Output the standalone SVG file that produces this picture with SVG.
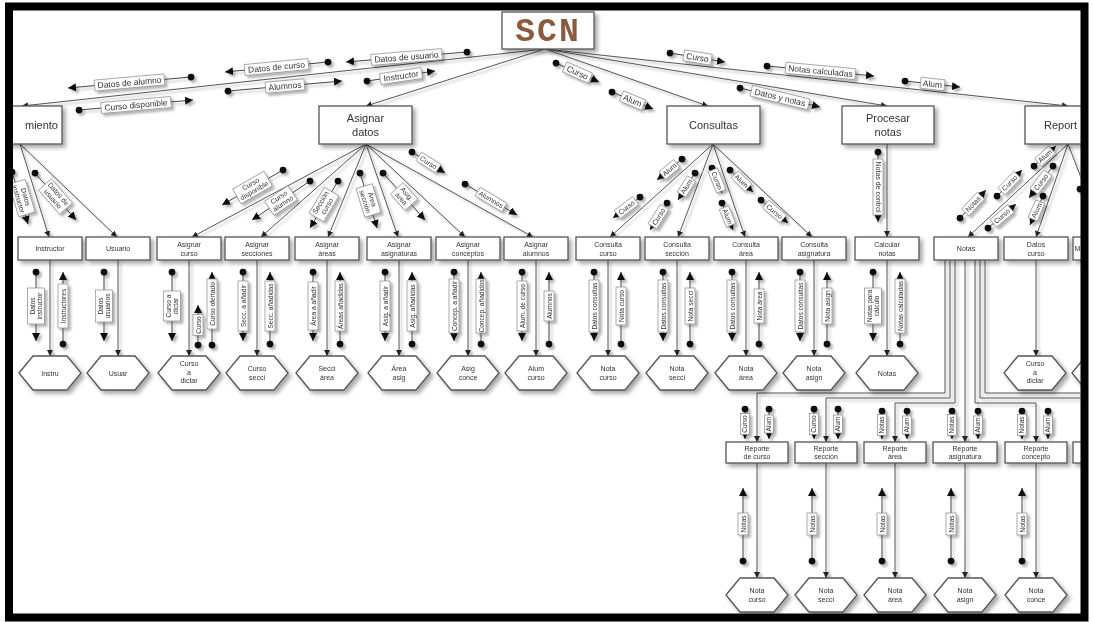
<svg xmlns="http://www.w3.org/2000/svg" width="1093" height="622" viewBox="0 0 1093 622">
<style>
.bx{fill:#fff;stroke:#555;stroke-width:1.3}
.t{font-family:"Liberation Sans",Arial,sans-serif;fill:#333;text-anchor:middle}
.t11{font-size:11px}
.t85{font-size:8.5px}
.t7{font-size:7px}
.t65{font-size:6.6px}
.ln{stroke:#555;stroke-width:1;fill:none}
.ar{marker-end:url(#ah)}
.cp{stroke:#444;stroke-width:1;fill:none;marker-start:url(#cd);marker-end:url(#ca)}
.lb{fill:#fff;stroke:#888;stroke-width:0.7}
.scn{font-family:"Liberation Mono","Courier New",monospace;font-weight:bold;font-size:33px;fill:#8b5a3c;text-anchor:middle;letter-spacing:2px}
</style>
<defs>
<filter id="sh" x="-10%" y="-10%" width="125%" height="125%">
<feDropShadow dx="3" dy="3" stdDeviation="2" flood-color="#000" flood-opacity="0.35"/>
</filter>
<filter id="shl" x="-5%" y="-5%" width="115%" height="115%">
<feDropShadow dx="2.5" dy="2.5" stdDeviation="1.2" flood-color="#000" flood-opacity="0.3"/>
</filter>
<marker id="ah" viewBox="0 0 10 10" refX="10" refY="5" markerWidth="6" markerHeight="6" markerUnits="userSpaceOnUse" orient="auto"><path d="M0,0 L10,5 L0,10 z" fill="#222"/></marker>
<marker id="ca" viewBox="0 0 10 10" refX="10" refY="5" markerWidth="8" markerHeight="8" markerUnits="userSpaceOnUse" orient="auto"><path d="M0,0 L10,5 L0,10 z" fill="#111"/></marker>
<marker id="cd" viewBox="0 0 20 20" refX="10" refY="10" markerWidth="9" markerHeight="9" markerUnits="userSpaceOnUse" overflow="visible"><circle cx="10" cy="10" r="7.5" fill="#111"/></marker>
<polygon id="hx" points="-31,0 -17,-17 17,-17 31,0 17,17 -17,17" fill="#fff" stroke="#555" stroke-width="1.3"/>
<clipPath id="inner"><rect x="13" y="10.5" width="1067.5" height="603"/></clipPath>
</defs>
<rect width="1093" height="622" fill="#fff"/>
<g clip-path="url(#inner)">

<g id="connectors" filter="url(#shl)">
<path class="ln ar" d="M545,49 L22,106"/>
<path class="ln ar" d="M545,49 L366,106"/>
<path class="ln ar" d="M545,49 L708,106"/>
<path class="ln ar" d="M545,49 L887,106"/>
<path class="ln ar" d="M545,49 L1068,106"/>
<path class="ln ar" d="M20,144 L49,237"/>
<path class="ln ar" d="M20,144 L117,237"/>
<path class="ln ar" d="M366,144 L192,237"/>
<path class="ln ar" d="M366,144 L261,237"/>
<path class="ln ar" d="M366,144 L328,237"/>
<path class="ln ar" d="M366,144 L398,237"/>
<path class="ln ar" d="M366,144 L465,237"/>
<path class="ln ar" d="M366,144 L533,237"/>
<path class="ln ar" d="M713,144 L610,237"/>
<path class="ln ar" d="M713,144 L678,237"/>
<path class="ln ar" d="M713,144 L745,237"/>
<path class="ln ar" d="M713,144 L812,237"/>
<path class="ln ar" d="M887,144 L887,237"/>
<path class="ln ar" d="M1068,144 L968,237"/>
<path class="ln ar" d="M1068,144 L1036,237"/>
<path class="ln ar" d="M1068,144 L1104,237"/>
<path class="ln ar" d="M50,260 V356"/>
<path class="ln ar" d="M118,260 V356"/>
<path class="ln ar" d="M189,260 V356"/>
<path class="ln ar" d="M257,260 V356"/>
<path class="ln ar" d="M327,260 V356"/>
<path class="ln ar" d="M399,260 V356"/>
<path class="ln ar" d="M468,260 V356"/>
<path class="ln ar" d="M536,260 V356"/>
<path class="ln ar" d="M608,260 V356"/>
<path class="ln ar" d="M677,260 V356"/>
<path class="ln ar" d="M746,260 V356"/>
<path class="ln ar" d="M814,260 V356"/>
<path class="ln ar" d="M887,260 V356"/>
<path class="ln ar" d="M1036,260 V356"/>
<path class="ln ar" d="M945,260 V393 H757 V442"/>
<path class="ln ar" d="M950,260 V398 H826 V442"/>
<path class="ln ar" d="M955,260 V403 H895 V442"/>
<path class="ln ar" d="M965,260 V442"/>
<path class="ln ar" d="M975,260 V403 H1036 V442"/>
<path class="ln" d="M980,260 V398 H1095"/>
<path class="ln" d="M985,260 V393 H1095"/>
<path class="ln ar" d="M757,463 V578"/>
<path class="ln ar" d="M826,463 V578"/>
<path class="ln ar" d="M895,463 V578"/>
<path class="ln ar" d="M965,463 V578"/>
<path class="ln ar" d="M1036,463 V578"/>
</g>

<g id="couples" filter="url(#shl)">
<line class="cp" x1="191" y1="77" x2="68" y2="88"/><g transform="translate(129.5 82.5) rotate(-5.1)"><rect class="lb" x="-35" y="-5.5" width="70" height="11"/><text class="t t85" y="3">Datos de alumno</text></g>
<line class="cp" x1="79" y1="110" x2="193" y2="100"/><g transform="translate(136 105) rotate(-5)"><rect class="lb" x="-35" y="-5.5" width="70" height="11"/><text class="t t85" y="3">Curso disponible</text></g>
<line class="cp" x1="328" y1="62" x2="225" y2="72"/><g transform="translate(276.5 67) rotate(-5.5)"><rect class="lb" x="-32" y="-5.5" width="64" height="11"/><text class="t t85" y="3">Datos de curso</text></g>
<line class="cp" x1="228" y1="91" x2="342" y2="81"/><g transform="translate(285 86) rotate(-5)"><rect class="lb" x="-19.5" y="-5.5" width="39" height="11"/><text class="t t85" y="3">Alumnos</text></g>
<line class="cp" x1="467" y1="52" x2="346" y2="62"/><g transform="translate(406.5 57) rotate(-4.7)"><rect class="lb" x="-35.5" y="-5.5" width="71" height="11"/><text class="t t85" y="3">Datos de usuario</text></g>
<line class="cp" x1="367" y1="81" x2="435" y2="71"/><g transform="translate(401 76) rotate(-8.4)"><rect class="lb" x="-21" y="-5.5" width="42" height="11"/><text class="t t85" y="3">Instructor</text></g>
<line class="cp" x1="670" y1="53" x2="725" y2="62"/><g transform="translate(697.5 57.5) rotate(9.3)"><rect class="lb" x="-14" y="-5.5" width="28" height="11"/><text class="t t85" y="3">Curso</text></g>
<line class="cp" x1="767" y1="66" x2="874" y2="76"/><g transform="translate(820.5 71) rotate(5.3)"><rect class="lb" x="-35" y="-5.5" width="70" height="11"/><text class="t t85" y="3">Notas calculadas</text></g>
<line class="cp" x1="905" y1="81" x2="960" y2="87"/><g transform="translate(932.5 84) rotate(6.2)"><rect class="lb" x="-12" y="-5.5" width="24" height="11"/><text class="t t85" y="3">Alum</text></g>
<line class="cp" x1="556" y1="63" x2="599" y2="82"/><g transform="translate(577.5 72.5) rotate(23.8)"><rect class="lb" x="-14" y="-5.5" width="28" height="11"/><text class="t t85" y="3">Curso</text></g>
<line class="cp" x1="612" y1="92" x2="653" y2="109"/><g transform="translate(632.5 100.5) rotate(22.5)"><rect class="lb" x="-12" y="-5.5" width="24" height="11"/><text class="t t85" y="3">Alum</text></g>
<line class="cp" x1="740" y1="88" x2="820" y2="107"/><g transform="translate(780 97.5) rotate(13.4)"><rect class="lb" x="-29.5" y="-5.5" width="59" height="11"/><text class="t t85" y="3">Datos y notas</text></g>

<line class="cp" x1="12" y1="172" x2="28" y2="224"/><g transform="translate(22 198) rotate(73)"><rect class="lb" x="-17" y="-8.5" width="34" height="17"/><text class="t t7" y="-1.5">Datos</text><text class="t t7" y="6">instructor</text></g>
<line class="cp" x1="35" y1="173" x2="76" y2="220"/><g transform="translate(55.5 196.5) rotate(48.9)"><rect class="lb" x="-16" y="-8.5" width="32" height="17"/><text class="t t7" y="-1.5">Datos de</text><text class="t t7" y="6">usuario</text></g>
<line class="cp" x1="283" y1="170" x2="222" y2="205"/><g transform="translate(252.5 187.5) rotate(-29.8)"><rect class="lb" x="-18" y="-8.5" width="36" height="17"/><text class="t t7" y="-1.5">Curso</text><text class="t t7" y="6">disponible</text></g>
<line class="cp" x1="310" y1="181" x2="252" y2="220"/><g transform="translate(281 200.5) rotate(-33.9)"><rect class="lb" x="-14" y="-8.5" width="28" height="17"/><text class="t t7" y="-1.5">Curso</text><text class="t t7" y="6">alumno</text></g>
<line class="cp" x1="338" y1="181" x2="310" y2="228"/><g transform="translate(324 204.5) rotate(-59.2)"><rect class="lb" x="-15" y="-8.5" width="30" height="17"/><text class="t t7" y="-1.5">Sección</text><text class="t t7" y="6">curso</text></g>
<line class="cp" x1="360" y1="173" x2="377" y2="228"/><g transform="translate(368.5 200.5) rotate(72.8)"><rect class="lb" x="-15" y="-8.5" width="30" height="17"/><text class="t t7" y="-1.5">Área</text><text class="t t7" y="6">sección</text></g>
<line class="cp" x1="383" y1="173" x2="425" y2="220"/><g transform="translate(404 196.5) rotate(48.2)"><rect class="lb" x="-11" y="-8.5" width="22" height="17"/><text class="t t7" y="-1.5">Asig.</text><text class="t t7" y="6">área</text></g>
<line class="cp" x1="412" y1="152" x2="445" y2="173"/><g transform="translate(428.5 162.5) rotate(32.5)"><rect class="lb" x="-11.5" y="-5" width="23" height="10"/><text class="t t7" y="2.5">Curso</text></g>
<line class="cp" x1="465" y1="184" x2="517" y2="215"/><g transform="translate(491 199.5) rotate(30.8)"><rect class="lb" x="-15.5" y="-5" width="31" height="10"/><text class="t t7" y="2.5">Alumnos</text></g>
<line class="cp" x1="682" y1="159" x2="657" y2="180"/><g transform="translate(669.5 169.5) rotate(-40)"><rect class="lb" x="-9.5" y="-5" width="19" height="10"/><text class="t t7" y="2.5">Alum</text></g>
<line class="cp" x1="640" y1="197" x2="613" y2="218"/><g transform="translate(626.5 207.5) rotate(-37.9)"><rect class="lb" x="-11.5" y="-5" width="23" height="10"/><text class="t t7" y="2.5">Curso</text></g>
<line class="cp" x1="695" y1="173" x2="678" y2="200"/><g transform="translate(686.5 186.5) rotate(-57.8)"><rect class="lb" x="-9.5" y="-5" width="19" height="10"/><text class="t t7" y="2.5">Alum</text></g>
<line class="cp" x1="667" y1="203" x2="650" y2="230"/><g transform="translate(658.5 216.5) rotate(-57.8)"><rect class="lb" x="-11.5" y="-5" width="23" height="10"/><text class="t t7" y="2.5">Curso</text></g>
<line class="cp" x1="712" y1="168" x2="722" y2="193"/><g transform="translate(717 180.5) rotate(68.2)"><rect class="lb" x="-11.5" y="-5" width="23" height="10"/><text class="t t7" y="2.5">Curso</text></g>
<line class="cp" x1="722" y1="203" x2="733" y2="230"/><g transform="translate(727.5 216.5) rotate(67.8)"><rect class="lb" x="-9.5" y="-5" width="19" height="10"/><text class="t t7" y="2.5">Alum</text></g>
<line class="cp" x1="730" y1="170" x2="753" y2="192"/><g transform="translate(741.5 181) rotate(43.7)"><rect class="lb" x="-9.5" y="-5" width="19" height="10"/><text class="t t7" y="2.5">Alum</text></g>
<line class="cp" x1="761" y1="200" x2="788" y2="223"/><g transform="translate(774.5 211.5) rotate(40.4)"><rect class="lb" x="-11.5" y="-5" width="23" height="10"/><text class="t t7" y="2.5">Curso</text></g>
<line class="cp" x1="878" y1="152" x2="878" y2="222"/><g transform="translate(878 187) rotate(90)"><rect class="lb" x="-28" y="-5" width="56" height="10"/><text class="t t7" y="2.5">Notas de control</text></g>
<line class="cp" x1="960" y1="218" x2="986" y2="190"/><g transform="translate(973 204) rotate(-47)"><rect class="lb" x="-11.5" y="-5" width="23" height="10"/><text class="t t7" y="2.5">Notas</text></g>
<line class="cp" x1="988" y1="228" x2="1016" y2="204"/><g transform="translate(1002 216) rotate(-40.6)"><rect class="lb" x="-11.5" y="-5" width="23" height="10"/><text class="t t7" y="2.5">Curso</text></g>
<line class="cp" x1="997" y1="196" x2="1022" y2="170"/><g transform="translate(1009.5 183) rotate(-46)"><rect class="lb" x="-11.5" y="-5" width="23" height="10"/><text class="t t7" y="2.5">Curso</text></g>
<line class="cp" x1="1034" y1="166" x2="1056" y2="146"/><g transform="translate(1045 156) rotate(-42)"><rect class="lb" x="-9.5" y="-5" width="19" height="10"/><text class="t t7" y="2.5">Alum</text></g>
<line class="cp" x1="1053" y1="166" x2="1029" y2="198"/><g transform="translate(1041 182) rotate(-53)"><rect class="lb" x="-11.5" y="-5" width="23" height="10"/><text class="t t7" y="2.5">Curso</text></g>
<line class="cp" x1="1043" y1="196" x2="1030" y2="225"/><g transform="translate(1036.5 210.5) rotate(-65.9)"><rect class="lb" x="-9.5" y="-5" width="19" height="10"/><text class="t t7" y="2.5">Alum</text></g>
<line class="cp" x1="1080" y1="189" x2="1096" y2="222"/>

<line class="cp" x1="36" y1="272" x2="36" y2="341"/><g transform="translate(36 306) rotate(-90)"><rect class="lb" x="-18" y="-8.5" width="36" height="17"/><text class="t t65" y="-1.5">Datos</text><text class="t t65" y="6">instructor</text></g>
<line class="cp" x1="63" y1="344" x2="63" y2="272"/><g transform="translate(63 306) rotate(-90)"><rect class="lb" x="-22" y="-5" width="44" height="10"/><text class="t t65" y="2.5">Instructores</text></g>
<line class="cp" x1="104" y1="272" x2="104" y2="341"/><g transform="translate(104 306) rotate(-90)"><rect class="lb" x="-16" y="-8.5" width="32" height="17"/><text class="t t65" y="-1.5">Datos</text><text class="t t65" y="6">usuarios</text></g>
<line class="cp" x1="172" y1="272" x2="172" y2="341"/><g transform="translate(172 306) rotate(-90)"><rect class="lb" x="-15" y="-8.5" width="30" height="17"/><text class="t t65" y="-1.5">Curso a</text><text class="t t65" y="6">dictar</text></g>
<line class="cp" x1="198" y1="345" x2="198" y2="305"/><g transform="translate(198 325) rotate(-90)"><rect class="lb" x="-10.5" y="-5" width="21" height="10"/><text class="t t65" y="2.5">Curso</text></g>
<line class="cp" x1="212" y1="345" x2="212" y2="272"/><g transform="translate(212 304) rotate(-90)"><rect class="lb" x="-25" y="-5" width="50" height="10"/><text class="t t65" y="2.5">Curso ofertado</text></g>
<line class="cp" x1="243" y1="272" x2="243" y2="341"/><g transform="translate(243 306) rotate(-90)"><rect class="lb" x="-25" y="-5" width="50" height="10"/><text class="t t65" y="2.5">Secc. a añadir</text></g>
<line class="cp" x1="270" y1="344" x2="270" y2="272"/><g transform="translate(270 306) rotate(-90)"><rect class="lb" x="-25" y="-5" width="50" height="10"/><text class="t t65" y="2.5">Secc. añadidas</text></g>
<line class="cp" x1="313" y1="272" x2="313" y2="341"/><g transform="translate(313 306) rotate(-90)"><rect class="lb" x="-24" y="-5" width="48" height="10"/><text class="t t65" y="2.5">Área a añadir</text></g>
<line class="cp" x1="340" y1="344" x2="340" y2="272"/><g transform="translate(340 306) rotate(-90)"><rect class="lb" x="-25" y="-5" width="50" height="10"/><text class="t t65" y="2.5">Áreas añadidas</text></g>
<line class="cp" x1="385" y1="272" x2="385" y2="341"/><g transform="translate(385 306) rotate(-90)"><rect class="lb" x="-25" y="-5" width="50" height="10"/><text class="t t65" y="2.5">Asig. a añadir</text></g>
<line class="cp" x1="412" y1="344" x2="412" y2="272"/><g transform="translate(412 306) rotate(-90)"><rect class="lb" x="-25" y="-5" width="50" height="10"/><text class="t t65" y="2.5">Asig. añadidas</text></g>
<line class="cp" x1="454" y1="272" x2="454" y2="341"/><g transform="translate(454 306) rotate(-90)"><rect class="lb" x="-27" y="-5" width="54" height="10"/><text class="t t65" y="2.5">Concep. a añadir</text></g>
<line class="cp" x1="481" y1="344" x2="481" y2="272"/><g transform="translate(481 306) rotate(-90)"><rect class="lb" x="-27" y="-5" width="54" height="10"/><text class="t t65" y="2.5">Concep. añadidos</text></g>
<line class="cp" x1="522" y1="272" x2="522" y2="341"/><g transform="translate(522 306) rotate(-90)"><rect class="lb" x="-25" y="-5" width="50" height="10"/><text class="t t65" y="2.5">Alum. de curso</text></g>
<line class="cp" x1="549" y1="344" x2="549" y2="272"/><g transform="translate(549 306) rotate(-90)"><rect class="lb" x="-15" y="-5" width="30" height="10"/><text class="t t65" y="2.5">Alumnos</text></g>
<line class="cp" x1="594" y1="272" x2="594" y2="341"/><g transform="translate(594 306) rotate(-90)"><rect class="lb" x="-26" y="-5" width="52" height="10"/><text class="t t65" y="2.5">Datos consultas</text></g>
<line class="cp" x1="621" y1="344" x2="621" y2="272"/><g transform="translate(621 306) rotate(-90)"><rect class="lb" x="-19" y="-5" width="38" height="10"/><text class="t t65" y="2.5">Nota curso</text></g>
<line class="cp" x1="663" y1="272" x2="663" y2="341"/><g transform="translate(663 306) rotate(-90)"><rect class="lb" x="-26" y="-5" width="52" height="10"/><text class="t t65" y="2.5">Datos consultas</text></g>
<line class="cp" x1="690" y1="344" x2="690" y2="272"/><g transform="translate(690 306) rotate(-90)"><rect class="lb" x="-18" y="-5" width="36" height="10"/><text class="t t65" y="2.5">Nota secci</text></g>
<line class="cp" x1="732" y1="272" x2="732" y2="341"/><g transform="translate(732 306) rotate(-90)"><rect class="lb" x="-26" y="-5" width="52" height="10"/><text class="t t65" y="2.5">Datos consultas</text></g>
<line class="cp" x1="759" y1="344" x2="759" y2="272"/><g transform="translate(759 306) rotate(-90)"><rect class="lb" x="-17" y="-5" width="34" height="10"/><text class="t t65" y="2.5">Nota área</text></g>
<line class="cp" x1="800" y1="272" x2="800" y2="341"/><g transform="translate(800 306) rotate(-90)"><rect class="lb" x="-26" y="-5" width="52" height="10"/><text class="t t65" y="2.5">Datos consultas</text></g>
<line class="cp" x1="827" y1="344" x2="827" y2="272"/><g transform="translate(827 306) rotate(-90)"><rect class="lb" x="-18" y="-5" width="36" height="10"/><text class="t t65" y="2.5">Nota asign</text></g>
<line class="cp" x1="873" y1="272" x2="873" y2="341"/><g transform="translate(873 306) rotate(-90)"><rect class="lb" x="-18" y="-8.5" width="36" height="17"/><text class="t t65" y="-1.5">Notas para</text><text class="t t65" y="6">cálculo</text></g>
<line class="cp" x1="900" y1="344" x2="900" y2="272"/><g transform="translate(900 306) rotate(-90)"><rect class="lb" x="-27" y="-5" width="54" height="10"/><text class="t t65" y="2.5">Notas calculadas</text></g>

<line class="cp" x1="745" y1="409" x2="745" y2="439"/><g transform="translate(745 424) rotate(-90)"><rect class="lb" x="-10.5" y="-4.5" width="21" height="9"/><text class="t t65" y="2.3">Curso</text></g>
<line class="cp" x1="769" y1="409" x2="769" y2="439"/><g transform="translate(769 424) rotate(-90)"><rect class="lb" x="-9" y="-4.5" width="18" height="9"/><text class="t t65" y="2.3">Alum</text></g>
<line class="cp" x1="814" y1="409" x2="814" y2="439"/><g transform="translate(814 424) rotate(-90)"><rect class="lb" x="-10.5" y="-4.5" width="21" height="9"/><text class="t t65" y="2.3">Curso</text></g>
<line class="cp" x1="838" y1="409" x2="838" y2="439"/><g transform="translate(838 424) rotate(-90)"><rect class="lb" x="-9" y="-4.5" width="18" height="9"/><text class="t t65" y="2.3">Alum</text></g>
<line class="cp" x1="882" y1="411" x2="882" y2="439"/><g transform="translate(882 425) rotate(-90)"><rect class="lb" x="-10.5" y="-4.5" width="21" height="9"/><text class="t t65" y="2.3">Notas</text></g>
<line class="cp" x1="907" y1="411" x2="907" y2="439"/><g transform="translate(907 425) rotate(-90)"><rect class="lb" x="-9" y="-4.5" width="18" height="9"/><text class="t t65" y="2.3">Alum</text></g>
<line class="cp" x1="952" y1="411" x2="952" y2="439"/><g transform="translate(952 425) rotate(-90)"><rect class="lb" x="-10.5" y="-4.5" width="21" height="9"/><text class="t t65" y="2.3">Notas</text></g>
<line class="cp" x1="978" y1="411" x2="978" y2="439"/><g transform="translate(978 425) rotate(-90)"><rect class="lb" x="-9" y="-4.5" width="18" height="9"/><text class="t t65" y="2.3">Alum</text></g>
<line class="cp" x1="1022" y1="411" x2="1022" y2="439"/><g transform="translate(1022 425) rotate(-90)"><rect class="lb" x="-10.5" y="-4.5" width="21" height="9"/><text class="t t65" y="2.3">Notas</text></g>
<line class="cp" x1="1048" y1="411" x2="1048" y2="439"/><g transform="translate(1048 425) rotate(-90)"><rect class="lb" x="-9" y="-4.5" width="18" height="9"/><text class="t t65" y="2.3">Alum</text></g>

<line class="cp" x1="743" y1="561" x2="743" y2="488"/><g transform="translate(743 524) rotate(-90)"><rect class="lb" x="-11" y="-5" width="22" height="10"/><text class="t t65" y="2.5">Notas</text></g>
<line class="cp" x1="812" y1="561" x2="812" y2="488"/><g transform="translate(812 524) rotate(-90)"><rect class="lb" x="-11" y="-5" width="22" height="10"/><text class="t t65" y="2.5">Notas</text></g>
<line class="cp" x1="882" y1="561" x2="882" y2="488"/><g transform="translate(882 524) rotate(-90)"><rect class="lb" x="-11" y="-5" width="22" height="10"/><text class="t t65" y="2.5">Notas</text></g>
<line class="cp" x1="951" y1="561" x2="951" y2="488"/><g transform="translate(951 524) rotate(-90)"><rect class="lb" x="-11" y="-5" width="22" height="10"/><text class="t t65" y="2.5">Notas</text></g>
<line class="cp" x1="1022" y1="561" x2="1022" y2="488"/><g transform="translate(1022 524) rotate(-90)"><rect class="lb" x="-11" y="-5" width="22" height="10"/><text class="t t65" y="2.5">Notas</text></g>
</g>

<g id="nodes" filter="url(#sh)">
<g id="n-scn"><rect class="bx" x="502" y="12" width="92" height="37"/><text class="scn" x="548" y="41">SCN</text></g>
<g id="n-mant"><rect class="bx" x="-40" y="106" width="102" height="38"/><text class="t t11" x="58" y="129" style="text-anchor:end">miento</text></g>
<g id="n-asig"><rect class="bx" x="319" y="106" width="93" height="38"/><text class="t t11" x="365.5" y="122">Asignar</text><text class="t t11" x="365.5" y="136">datos</text></g>
<g id="n-cons"><rect class="bx" x="667" y="106" width="93" height="38"/><text class="t t11" x="713.5" y="129">Consultas</text></g>
<g id="n-proc"><rect class="bx" x="842" y="106" width="92" height="38"/><text class="t t11" x="888" y="122">Procesar</text><text class="t t11" x="888" y="136">notas</text></g>
<g id="n-rep"><rect class="bx" x="1025" y="106" width="90" height="38"/><text class="t t11" x="1044" y="129" style="text-anchor:start">Report</text></g>

<g id="n-instructor"><rect class="bx" x="18" y="237" width="64" height="23"/><text class="t t7" x="50" y="251">Instructor</text></g>
<g id="n-usuario"><rect class="bx" x="86" y="237" width="64" height="23"/><text class="t t7" x="118" y="251">Usuario</text></g>
<g id="n-acurso"><rect class="bx" x="157" y="237" width="64" height="23"/><text class="t t7" x="189" y="246.5">Asignar</text><text class="t t7" x="189" y="255.5">curso</text></g>
<g id="n-asecc"><rect class="bx" x="225" y="237" width="64" height="23"/><text class="t t7" x="257" y="246.5">Asignar</text><text class="t t7" x="257" y="255.5">secciones</text></g>
<g id="n-aareas"><rect class="bx" x="295" y="237" width="64" height="23"/><text class="t t7" x="327" y="246.5">Asignar</text><text class="t t7" x="327" y="255.5">áreas</text></g>
<g id="n-aasig"><rect class="bx" x="367" y="237" width="64" height="23"/><text class="t t7" x="399" y="246.5">Asignar</text><text class="t t7" x="399" y="255.5">asignaturas</text></g>
<g id="n-aconc"><rect class="bx" x="436" y="237" width="64" height="23"/><text class="t t7" x="468" y="246.5">Asignar</text><text class="t t7" x="468" y="255.5">conceptos</text></g>
<g id="n-aalum"><rect class="bx" x="504" y="237" width="64" height="23"/><text class="t t7" x="536" y="246.5">Asignar</text><text class="t t7" x="536" y="255.5">alumnos</text></g>
<g id="n-ccurso"><rect class="bx" x="576" y="237" width="64" height="23"/><text class="t t7" x="608" y="246.5">Consulta</text><text class="t t7" x="608" y="255.5">curso</text></g>
<g id="n-csecc"><rect class="bx" x="645" y="237" width="64" height="23"/><text class="t t7" x="677" y="246.5">Consulta</text><text class="t t7" x="677" y="255.5">sección</text></g>
<g id="n-carea"><rect class="bx" x="714" y="237" width="64" height="23"/><text class="t t7" x="746" y="246.5">Consulta</text><text class="t t7" x="746" y="255.5">área</text></g>
<g id="n-casig"><rect class="bx" x="782" y="237" width="64" height="23"/><text class="t t7" x="814" y="246.5">Consulta</text><text class="t t7" x="814" y="255.5">asignatura</text></g>
<g id="n-calc"><rect class="bx" x="855" y="237" width="64" height="23"/><text class="t t7" x="887" y="246.5">Calcular</text><text class="t t7" x="887" y="255.5">notas</text></g>
<g id="n-notas"><rect class="bx" x="934" y="237" width="64" height="23"/><text class="t t7" x="966" y="251">Notas</text></g>
<g id="n-dcurso"><rect class="bx" x="1004" y="237" width="64" height="23"/><text class="t t7" x="1036" y="246.5">Datos</text><text class="t t7" x="1036" y="255.5">curso</text></g>
<g id="n-m"><rect class="bx" x="1073" y="237" width="64" height="23"/><text class="t t7" x="1074.5" y="251" style="text-anchor:start">M</text></g>

<g id="h-instru"><use href="#hx" x="50" y="373"/><text class="t t7" x="50" y="375.5">Instru</text></g>
<g id="h-usuar"><use href="#hx" x="118" y="373"/><text class="t t7" x="118" y="375.5">Usuar</text></g>
<g id="h-cdictar"><use href="#hx" x="189" y="373"/><text class="t t7" x="189" y="366">Curso</text><text class="t t7" x="189" y="374.5">a</text><text class="t t7" x="189" y="383">dictar</text></g>
<g id="h-csecci"><use href="#hx" x="257" y="373"/><text class="t t7" x="257" y="371">Curso</text><text class="t t7" x="257" y="379.5">secci</text></g>
<g id="h-sarea"><use href="#hx" x="327" y="373"/><text class="t t7" x="327" y="371">Secci</text><text class="t t7" x="327" y="379.5">área</text></g>
<g id="h-aasig"><use href="#hx" x="399" y="373"/><text class="t t7" x="399" y="371">Área</text><text class="t t7" x="399" y="379.5">asig</text></g>
<g id="h-aconce"><use href="#hx" x="468" y="373"/><text class="t t7" x="468" y="371">Asig</text><text class="t t7" x="468" y="379.5">conce</text></g>
<g id="h-acurso"><use href="#hx" x="536" y="373"/><text class="t t7" x="536" y="371">Alum</text><text class="t t7" x="536" y="379.5">curso</text></g>
<g id="h-ncurso"><use href="#hx" x="608" y="373"/><text class="t t7" x="608" y="371">Nota</text><text class="t t7" x="608" y="379.5">curso</text></g>
<g id="h-nsecci"><use href="#hx" x="677" y="373"/><text class="t t7" x="677" y="371">Nota</text><text class="t t7" x="677" y="379.5">secci</text></g>
<g id="h-narea"><use href="#hx" x="746" y="373"/><text class="t t7" x="746" y="371">Nota</text><text class="t t7" x="746" y="379.5">área</text></g>
<g id="h-nasign"><use href="#hx" x="814" y="373"/><text class="t t7" x="814" y="371">Nota</text><text class="t t7" x="814" y="379.5">asign</text></g>
<g id="h-notas"><use href="#hx" x="887" y="373"/><text class="t t7" x="887" y="375.5">Notas</text></g>
<g id="h-cdictar2"><use href="#hx" x="1035" y="373"/><text class="t t7" x="1035" y="366">Curso</text><text class="t t7" x="1035" y="374.5">a</text><text class="t t7" x="1035" y="383">dictar</text></g>
<g id="h-partial"><use href="#hx" x="1103" y="373"/></g>

<g id="n-rcurso"><rect class="bx" x="726" y="442" width="62" height="21"/><text class="t t7" x="757" y="450.5">Reporte</text><text class="t t7" x="757" y="459">de curso</text></g>
<g id="n-rsecc"><rect class="bx" x="795" y="442" width="62" height="21"/><text class="t t7" x="826" y="450.5">Reporte</text><text class="t t7" x="826" y="459">sección</text></g>
<g id="n-rarea"><rect class="bx" x="864" y="442" width="62" height="21"/><text class="t t7" x="895" y="450.5">Reporte</text><text class="t t7" x="895" y="459">área</text></g>
<g id="n-rasig"><rect class="bx" x="933" y="442" width="64" height="21"/><text class="t t7" x="965" y="450.5">Reporte</text><text class="t t7" x="965" y="459">asignatura</text></g>
<g id="n-rconc"><rect class="bx" x="1005" y="442" width="62" height="21"/><text class="t t7" x="1036" y="450.5">Reporte</text><text class="t t7" x="1036" y="459">concepto</text></g>
<g id="n-rpartial"><rect class="bx" x="1073" y="442" width="62" height="21"/></g>

<g id="h-bcurso"><use href="#hx" x="757" y="595"/><text class="t t7" x="757" y="593">Nota</text><text class="t t7" x="757" y="601.5">curso</text></g>
<g id="h-bsecci"><use href="#hx" x="826" y="595"/><text class="t t7" x="826" y="593">Nota</text><text class="t t7" x="826" y="601.5">secci</text></g>
<g id="h-barea"><use href="#hx" x="895" y="595"/><text class="t t7" x="895" y="593">Nota</text><text class="t t7" x="895" y="601.5">área</text></g>
<g id="h-basign"><use href="#hx" x="965" y="595"/><text class="t t7" x="965" y="593">Nota</text><text class="t t7" x="965" y="601.5">asign</text></g>
<g id="h-bconce"><use href="#hx" x="1036" y="595"/><text class="t t7" x="1036" y="593">Nota</text><text class="t t7" x="1036" y="601.5">conce</text></g>
</g>
</g>
<rect x="9" y="6.5" width="1075.5" height="611" fill="none" stroke="#000" stroke-width="8"/>
</svg>
